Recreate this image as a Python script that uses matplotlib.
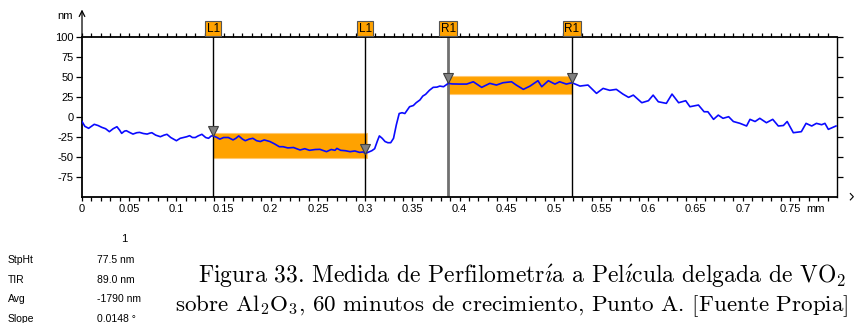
import numpy as np
import matplotlib
matplotlib.use("Agg")
import matplotlib.pyplot as plt
import matplotlib.transforms as mtransforms

plt.rcParams['font.family'] = ['Liberation Sans', 'DejaVu Sans']
plt.rcParams['axes.unicode_minus'] = False
plt.rcParams['mathtext.fontset'] = 'cm'

# perfil medido (mm, nm)
pos_mm = [0.000, 0.003, 0.007, 0.010, 0.013, 0.017, 0.021, 0.025, 0.029, 0.033,
          0.037, 0.040, 0.042, 0.045, 0.047, 0.051, 0.054, 0.058, 0.061, 0.065,
          0.069, 0.072, 0.074, 0.078, 0.083, 0.087, 0.090, 0.094, 0.100, 0.104,
          0.107, 0.111, 0.114, 0.117, 0.120, 0.123, 0.127, 0.131, 0.134, 0.137,
          0.139, 0.143, 0.146, 0.150, 0.155, 0.160, 0.163, 0.166, 0.170, 0.173,
          0.177, 0.181, 0.185, 0.189, 0.193, 0.199, 0.204, 0.209, 0.213, 0.218,
          0.224, 0.231, 0.236, 0.241, 0.247, 0.252, 0.256, 0.259, 0.264, 0.268,
          0.270, 0.274, 0.279, 0.284, 0.289, 0.294, 0.298, 0.300, 0.303, 0.307,
          0.310, 0.313, 0.315, 0.318, 0.321, 0.324, 0.327, 0.330, 0.333, 0.336,
          0.339, 0.342, 0.345, 0.347, 0.351, 0.354, 0.358, 0.361, 0.364, 0.368,
          0.372, 0.376, 0.379, 0.383, 0.388, 0.392, 0.397, 0.400, 0.4075, 0.4145,
          0.4234, 0.432, 0.439, 0.446, 0.455, 0.460, 0.4675, 0.4746, 0.483, 0.487,
          0.494, 0.501, 0.506, 0.513, 0.519, 0.5275, 0.536, 0.545, 0.552, 0.559,
          0.566, 0.573, 0.579, 0.584, 0.593, 0.600, 0.605, 0.6105, 0.619, 0.625,
          0.632, 0.635, 0.6395, 0.644, 0.653, 0.659, 0.663, 0.669, 0.674, 0.679,
          0.685, 0.690, 0.697, 0.704, 0.7076, 0.713, 0.718, 0.725, 0.7317, 0.7376,
          0.743, 0.747, 0.7535, 0.762, 0.767, 0.773, 0.778, 0.7835, 0.787, 0.7906,
          0.7987]
height_nm = [-6, -12, -14.5, -12, -9.5, -11, -13.3, -15, -18.7, -15,
             -12.5, -17, -20.8, -18, -17.5, -20, -21.7, -20, -19.6, -21,
             -21.7, -20.5, -20, -23, -25, -23, -22, -26, -30, -27,
             -26.2, -25, -23.7, -26, -26, -24, -22, -26, -27, -24,
             -24, -26, -28, -26, -26, -29, -27, -24, -28, -30,
             -28, -27, -30, -31, -29, -31, -34, -37.5, -37.5, -39,
             -38.5, -41.6, -40, -42, -41, -40.8, -42.5, -43.7, -41, -42,
             -39.6, -42, -42.5, -43.7, -42.8, -44.6, -44, -46, -44.5, -42.5,
             -40, -30, -24, -27, -31, -32.5, -32.5, -27, -10, 4,
             5, 4, 9, 12.5, 14, 17.5, 21, 25.8, 28, 33,
             36.7, 37, 38.3, 37.5, 41.7, 41, 40.8, 40.8, 40.8, 43.7,
             36.7, 41.7, 39.6, 42.5, 43.7, 39.6, 34.2, 38.3, 45, 37.5,
             45, 40.8, 43.7, 40.8, 42.5, 38.3, 39.6, 29.2, 35.4, 33,
             34.2, 28.3, 24.2, 27, 17.5, 20, 27, 18.7, 16.7, 28.3,
             17.5, 18.5, 20, 12.5, 14.6, 6.2, 6.2, -3.3, 2, -2,
             0, -6, -8.3, -11.6, -3.3, -6, -2, -7.5, -3.3, -11.6,
             -11, -6, -20, -18.7, -8.3, -11.6, -8.3, -10, -8.3, -15.8,
             -11.6]

# cursores
cursor_x = [0.139, 0.300, 0.388, 0.519]
cursor_names = ['L1', 'L1', 'R1', 'R1']
cursor_colors = ['black', 'black', '#707070', 'black']
cursor_widths = [1.0, 1.0, 2.0, 1.0]

# bandas de referencia (x0, x1, y0, y1)
band_left = [0.139, 0.302, -51, -20]
band_right = [0.388, 0.519, 29, 51]

# resultados
stat_names = ['StpHt', 'TIR', 'Avg', 'Slope']
stat_values = ['77.5 nm', '89.0 nm', '-1790 nm', '0.0148 °']

fig = plt.figure(figsize=(8.56, 3.23), dpi=100)
ax = fig.add_axes([0.0958, 0.391, 0.8817, 0.4953])

for b in (band_left, band_right):
    ax.fill_between([b[0], b[1]], b[2], b[3], color='#ffa200',
                    edgecolor='#ffc870', linewidth=0.8, zorder=1)

for x, c, w in zip(cursor_x, cursor_colors, cursor_widths):
    ax.axvline(x, color=c, linewidth=w, zorder=2)

ax.plot(pos_mm, height_nm, color='#0a0aff', linewidth=1.2, zorder=3)

# triangulos sobre el perfil en cada cursor
tri_off = mtransforms.offset_copy(ax.transData, fig=fig, x=0, y=3.5, units='points')
tri_y = np.interp(cursor_x, pos_mm, height_nm)
ax.plot(cursor_x, tri_y, linestyle='none', marker='v', markersize=7.5,
        markerfacecolor='#808080', markeredgecolor='#404040',
        markeredgewidth=0.8, transform=tri_off, zorder=4)

# etiquetas de cursor sobre el eje superior
top = mtransforms.blended_transform_factory(ax.transData, ax.transAxes)
for x, name in zip(cursor_x, cursor_names):
    ax.text(x, 1.012, name, transform=top, ha='center', va='bottom',
            fontsize=8.5, zorder=5,
            bbox=dict(boxstyle='square,pad=0.12', facecolor='#ffa200',
                      edgecolor='#555555', linewidth=0.8))

ax.set_xlim(0, 0.7995)
ax.set_ylim(-100, 100)

ax.set_yticks([-75, -50, -25, 0, 25, 50, 75, 100])
xt = np.round(np.arange(0, 0.76, 0.05), 2)
ax.set_xticks(xt)
ax.set_xticklabels(['%g' % v for v in xt])
ax.set_xticks(np.round(np.arange(0, 0.80, 0.01), 2), minor=True)

ax.tick_params(axis='x', which='both', top=True, bottom=True, direction='out',
               length=3, width=0.9, labelsize=8, pad=2)
ax.tick_params(axis='y', which='both', left=True, right=True, direction='out',
               length=4, width=0.9, labelsize=8, pad=2)
ax.tick_params(axis='y', which='major', labelright=False)

for s in ['left', 'bottom', 'top']:
    ax.spines[s].set_linewidth(1.3)
ax.spines['right'].set_linewidth(1.0)

ax.annotate('mm', xy=(0.75, 0), xycoords=('data', 'axes fraction'),
            xytext=(12, -5), textcoords='offset points',
            ha='left', va='top', fontsize=8)

# flecha del eje y y punta del eje x
ax.annotate('', xy=(0, 1.17), xycoords='axes fraction', xytext=(0, 1.0),
            arrowprops=dict(arrowstyle='->', color='black', linewidth=0.9,
                            shrinkA=0, shrinkB=0), annotation_clip=False)
ax.plot([1.018, 1.022, 1.018], [0.02, 0.0, -0.02], color='black',
        linewidth=0.8, transform=ax.transAxes, clip_on=False)
ax.text(-0.012, 1.13, 'nm', transform=ax.transAxes, ha='right', va='center',
        fontsize=8)

# tabla de resultados
fig.text(124 / 856, 1 - 239 / 323, '1', ha='center', va='center', fontsize=8)
for i, (n, v) in enumerate(zip(stat_names, stat_values)):
    yy = 1 - (260 + 19.7 * i) / 323
    fig.text(8 / 856, yy, n, ha='left', va='center', fontsize=7.5)
    fig.text(97 / 856, yy, v, ha='left', va='center', fontsize=7.5)

# pie de figura
cap_font = 'cmr10'
fig.text(522 / 856, 1 - 276 / 323,
         r'Figura 33. Medida de Perfilometr$\acute{\imath}$a a Pel$\acute{\imath}$cula delgada de VO$_2$',
         ha='center', va='center', fontsize=17, family=cap_font)
fig.text(512 / 856, 1 - 306 / 323,
         'sobre Al$_2$O$_3$, 60 minutos de crecimiento, Punto A. [Fuente Propia]',
         ha='center', va='center', fontsize=16.6, family=cap_font)

fig.savefig('out.png', dpi=100)
